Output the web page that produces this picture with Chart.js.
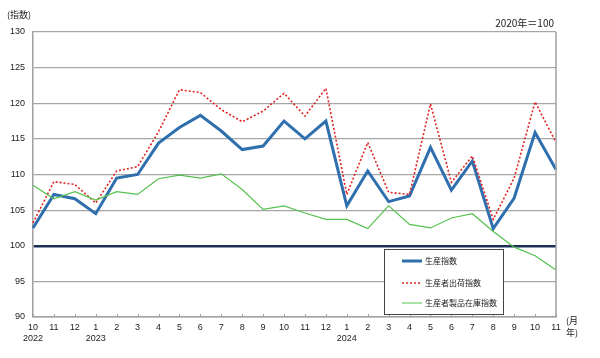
<!DOCTYPE html>
<html>
<head>
<meta charset="utf-8">
<script src="https://cdn.jsdelivr.net/npm/chart.js@4/dist/chart.umd.min.js"></script>
<style>
html,body{margin:0;padding:0;background:#fff;}
#wrap{width:600px;height:358px;position:relative;}
</style>
</head>
<body>
<div id="wrap"><canvas id="c" width="600" height="358"></canvas></div>
<script>
const months = ['10','11','12','1','2','3','4','5','6','7','8','9','10','11','12','1','2','3','4','5','6','7','8','9','10','11'];
const years = {0:'2022',3:'2023',15:'2024'};
const production = [102.5,107.2,106.6,104.5,109.5,110.0,114.4,116.6,118.3,116.1,113.5,114.0,117.5,115.0,117.5,105.6,110.5,106.2,107.0,113.8,107.8,111.9,102.4,106.7,115.9,110.7];
const shipments = [103.2,109.0,108.6,106.0,110.5,111.1,116.0,121.9,121.5,119.1,117.4,118.9,121.4,118.2,122.1,107.2,114.5,107.5,107.2,119.9,108.9,112.6,103.7,109.5,120.2,114.5];
const inventory = [108.5,106.6,107.6,106.4,107.6,107.2,109.4,109.9,109.5,110.1,107.9,105.1,105.6,104.6,103.7,103.7,102.4,105.6,103.0,102.5,103.9,104.5,102.0,99.8,98.6,96.6];
const seriesNames = ['生産指数','生産者出荷指数','生産者製品在庫指数'];
const yMin = 90, yMax = 130, yStep = 5, baseValue = 100;

const FONT = '"Liberation Sans","Noto Sans CJK JP",sans-serif';
const JFONT = '"Noto Sans CJK JP",sans-serif';
const colors = ['#2f6fae','#e02424','#55c24f'];

const labels = months.map((m,i)=> years[i] ? [m, years[i]] : [m, '']);

const extras = {
  id:'extras',
  afterDraw(chart){
    const ctx = chart.ctx, a = chart.chartArea, xs = chart.scales.x;
    ctx.save();
    // right border
    ctx.strokeStyle = '#a0a0a0'; ctx.lineWidth = 1.5;
    ctx.beginPath(); ctx.moveTo(a.right, a.top); ctx.lineTo(a.right, a.bottom); ctx.stroke();
    // inward x ticks
    ctx.lineWidth = 1;
    for (let i=0;i<months.length;i++){
      const x = Math.round(xs.getPixelForTick(i))+0.5;
      ctx.beginPath(); ctx.moveTo(x, a.bottom); ctx.lineTo(x, a.bottom-3); ctx.stroke();
    }
    // texts
    ctx.fillStyle = '#222';
    ctx.font = '9px ' + JFONT;
    ctx.textBaseline = 'middle';
    ctx.textAlign = 'left';
    ctx.fillText('(指数)', 7, 15);
    ctx.textAlign = 'right';
    ctx.font = '10px ' + JFONT;
    ctx.fillText('2020年＝100', a.right-2, 23);
    ctx.textAlign = 'left';
    ctx.font = '9px ' + JFONT;
    ctx.fillText('(月', 566, 321);
    ctx.fillText('年)', 566, 333);
    // legend
    const lx = 384, ly = 249, lw = 119, lh = 65;
    ctx.fillStyle = '#fff';
    ctx.fillRect(lx, ly, lw, lh);
    ctx.strokeStyle = '#444'; ctx.lineWidth = 1;
    ctx.strokeRect(lx+0.5, ly+0.5, lw, lh);
    const rows = [261, 283, 303];
    const widths = [3, 1.5, 1];
    const dashes = [[], [2,2], []];
    for (let k=0;k<3;k++){
      ctx.strokeStyle = colors[k]; ctx.lineWidth = widths[k];
      ctx.setLineDash(dashes[k]);
      ctx.beginPath(); ctx.moveTo(402, rows[k]); ctx.lineTo(422, rows[k]); ctx.stroke();
      ctx.setLineDash([]);
      ctx.fillStyle = '#222';
      ctx.font = '8px ' + JFONT;
      ctx.textAlign = 'left';
      ctx.fillText(seriesNames[k], 425, rows[k]);
    }
    ctx.restore();
  }
};

new Chart(document.getElementById('c'), {
  type:'line',
  data:{
    labels: labels,
    datasets:[
      {label:seriesNames[2], data:inventory, borderColor:colors[2], borderWidth:1.2, pointRadius:0, tension:0, fill:false},
      {label:seriesNames[1], data:shipments, borderColor:colors[1], borderWidth:1.6, borderDash:[2,2], pointRadius:0, tension:0, fill:false},
      {label:seriesNames[0], data:production, borderColor:colors[0], borderWidth:3, pointRadius:0, tension:0, fill:false, borderJoinStyle:'miter'}
    ]
  },
  options:{
    responsive:false,
    animation:false,
    events:[],
    layout:{padding:{left:0, right:44, top:32, bottom:0}},
    plugins:{legend:{display:false}, title:{display:false}, tooltip:{enabled:false}},
    scales:{
      x:{
        offset:false,
        grid:{display:false, drawTicks:false},
        border:{display:true, color:'#a0a0a0', width:1.5},
        ticks:{color:'#222', font:{size:9, family:FONT}, maxRotation:0, autoSkip:false, padding:5},
        afterFit(s){ s.height = 41; }
      },
      y:{
        min:yMin, max:yMax,
        grid:{
          drawTicks:false,
          color: c => c.tick && c.tick.value===baseValue ? '#1d3158' : '#a6a6a6',
          lineWidth: c => c.tick && c.tick.value===baseValue ? 2.5 : 1.2
        },
        border:{display:true, color:'#a0a0a0', width:1.5},
        ticks:{stepSize:yStep, color:'#222', font:{size:9, family:FONT}, padding:8},
        afterFit(s){ s.width = 33; }
      }
    }
  },
  plugins:[extras]
});
</script>
</body>
</html>
